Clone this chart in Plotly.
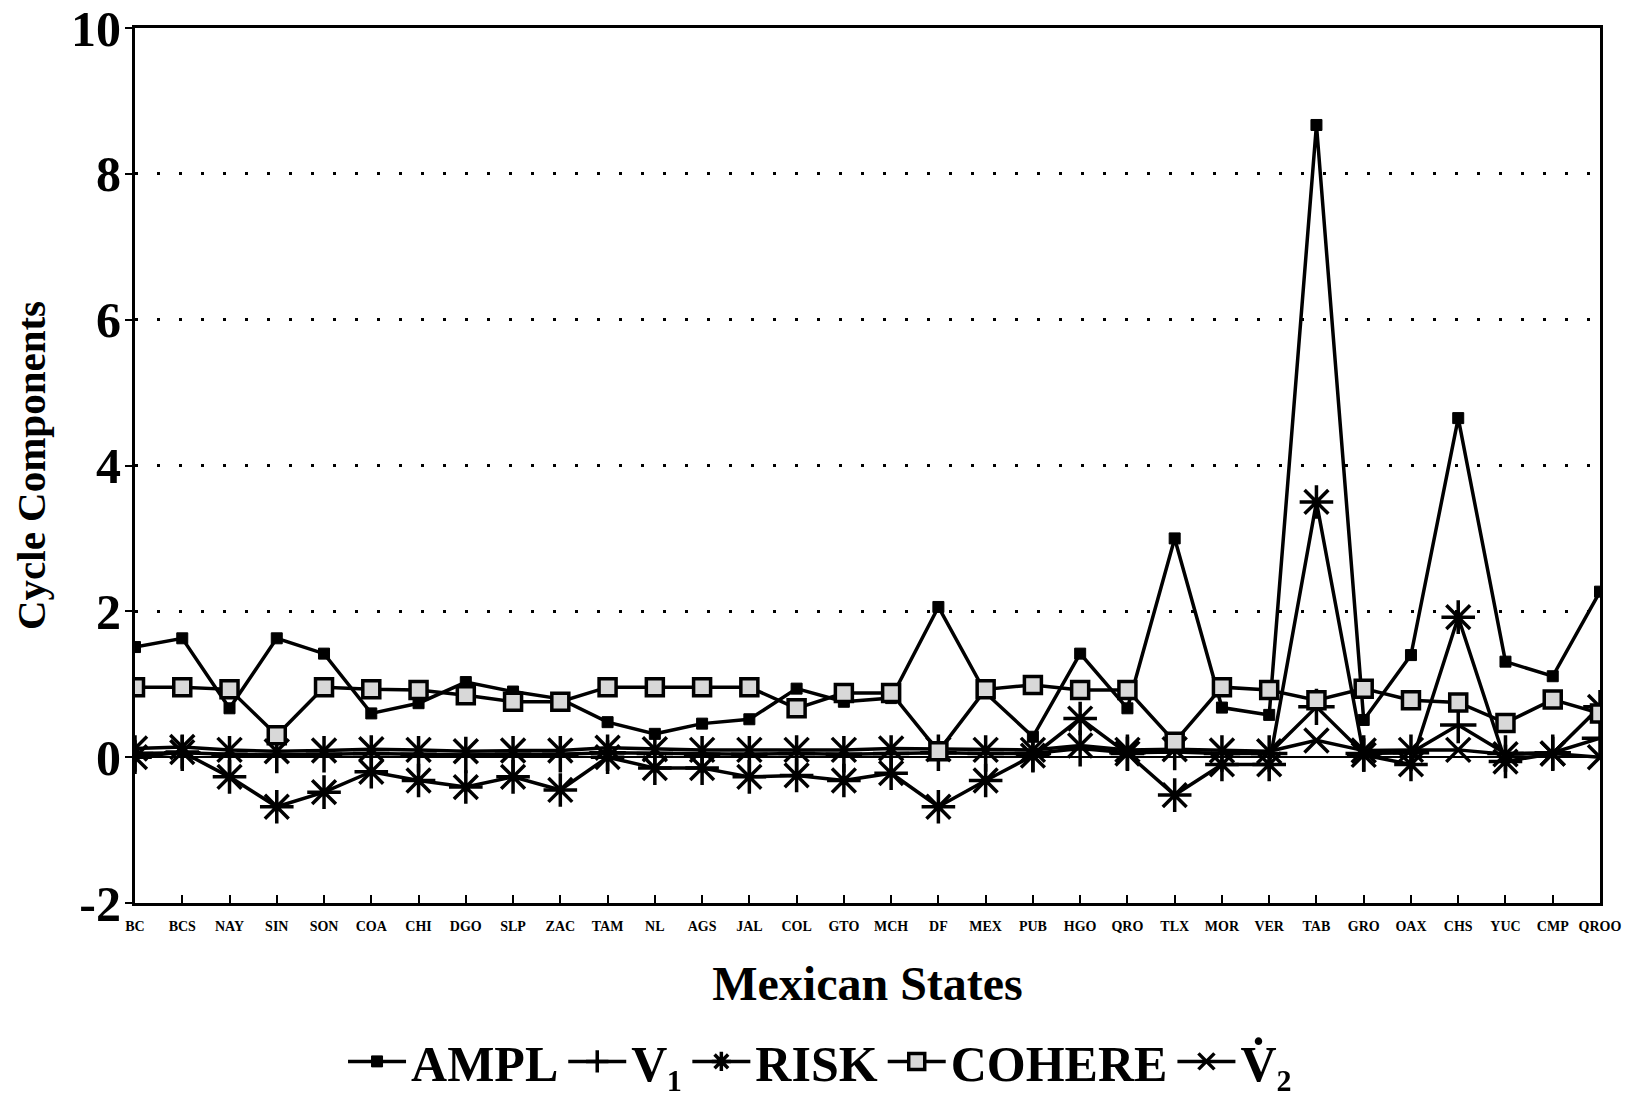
import plotly.graph_objects as go

states = ["BC","BCS","NAY","SIN","SON","COA","CHI","DGO","SLP","ZAC","TAM","NL","AGS","JAL","COL","GTO",
          "MCH","DF","MEX","PUB","HGO","QRO","TLX","MOR","VER","TAB","GRO","OAX","CHS","YUC","CMP","QROO"]

ampl = [1.51,1.63,0.67,1.63,1.42,0.60,0.74,1.03,0.90,0.80,0.48,0.32,0.46,0.52,0.94,0.76,
        0.81,2.06,0.88,0.28,1.42,0.67,3.00,0.68,0.58,8.67,0.51,1.40,4.65,1.31,1.11,2.27]
v1 = [0.05,0.06,0.04,0.03,0.04,0.05,0.04,0.03,0.04,0.04,0.06,0.05,0.04,0.04,0.05,0.04,
      0.05,0.06,0.05,0.05,0.12,0.06,0.07,0.05,0.05,0.69,0.05,0.06,0.44,0.05,0.06,0.26]
risk = [0.00,0.07,-0.27,-0.68,-0.48,-0.20,-0.32,-0.41,-0.27,-0.45,0.00,-0.15,-0.15,-0.27,-0.25,-0.32,
        -0.22,-0.68,-0.32,0.02,0.53,0.05,-0.52,-0.10,-0.10,3.50,0.03,-0.10,1.92,-0.06,0.05,0.69]
cohere = [0.96,0.96,0.93,0.30,0.96,0.93,0.92,0.85,0.76,0.76,0.96,0.96,0.96,0.96,0.67,0.88,
          0.88,0.08,0.93,0.99,0.92,0.92,0.21,0.96,0.92,0.78,0.94,0.78,0.75,0.47,0.79,0.60]
v2 = [0.12,0.14,0.10,0.08,0.09,0.11,0.10,0.08,0.09,0.09,0.13,0.11,0.10,0.10,0.10,0.10,
      0.12,0.11,0.10,0.10,0.16,0.10,0.11,0.09,0.08,0.23,0.09,0.10,0.10,0.04,0.05,0.00]

y_ticks = [-2, 0, 2, 4, 6, 8, 10]

SERIF = "Liberation Serif, Times New Roman, serif"
LW = 3.5

fig = go.Figure()
fig.add_trace(go.Scatter(x=states, y=v1, name="V\u2081", mode="lines+markers", legendrank=2,
                         line=dict(color="black", width=LW),
                         marker=dict(symbol="cross-thin", size=26, line=dict(color="black", width=3.5))))
fig.add_trace(go.Scatter(x=states, y=v2, name="V\u0307\u2082", mode="lines+markers", legendrank=5,
                         line=dict(color="black", width=LW),
                         marker=dict(symbol="x-thin", size=24, line=dict(color="black", width=3.5))))
fig.add_trace(go.Scatter(x=states, y=risk, name="RISK", mode="lines+markers", legendrank=3,
                         line=dict(color="black", width=LW),
                         marker=dict(symbol="asterisk", size=28, line=dict(color="black", width=3.5))))
fig.add_trace(go.Scatter(x=states, y=ampl, name="AMPL", mode="lines+markers", legendrank=1,
                         line=dict(color="black", width=LW),
                         marker=dict(symbol="square", size=11, color="black", line=dict(color="black", width=1))))
fig.add_trace(go.Scatter(x=states, y=cohere, name="COHERE", mode="lines+markers", legendrank=4,
                         line=dict(color="black", width=LW),
                         marker=dict(symbol="square", size=17, color="#d8d8d8", line=dict(color="black", width=3.5))))

fig.update_layout(
    width=1617, height=1083,
    margin=dict(l=127, r=25, t=20, b=188, autoexpand=False),
    paper_bgcolor="white", plot_bgcolor="white",
    font=dict(family=SERIF, color="black"),
    showlegend=True,
    legend=dict(orientation="h", x=0.4676, xanchor="center", y=-0.181, yanchor="middle",
                font=dict(family=SERIF, size=50, weight="bold", color="black"),
                itemwidth=58, bgcolor="rgba(0,0,0,0)", traceorder="normal"),
)
fig.update_xaxes(
    type="category", range=[0, 31], automargin=False,
    showline=True, linecolor="black", linewidth=3, mirror=True,
    ticks="inside", ticklen=8, tickwidth=2, tickcolor="black", showgrid=False,
    ticklabelstandoff=8, ticklabeloverflow="allow",
    tickfont=dict(family=SERIF, size=14, weight="bold", color="black"),
    title=dict(text="Mexican States", font=dict(family=SERIF, size=48, weight="bold", color="black"), standoff=34),
)
fig.update_yaxes(
    range=[-2, 10], tickvals=y_ticks, ticktext=[str(v) for v in y_ticks], automargin=False,
    showline=True, linecolor="black", linewidth=3, mirror=True,
    ticks="outside", ticklen=7, tickwidth=2, tickcolor="black",
    showgrid=True, gridcolor="black", gridwidth=2.5, griddash="3px,19px",
    zeroline=True, zerolinecolor="black", zerolinewidth=2,
    ticklabeloverflow="allow", ticklabelstandoff=-6,
    tickfont=dict(family=SERIF, size=50, weight="bold", color="black"),
    title=dict(text="Cycle Components", font=dict(family=SERIF, size=41, weight="bold", color="black"), standoff=32),
)

fig.write_html("out.html")
